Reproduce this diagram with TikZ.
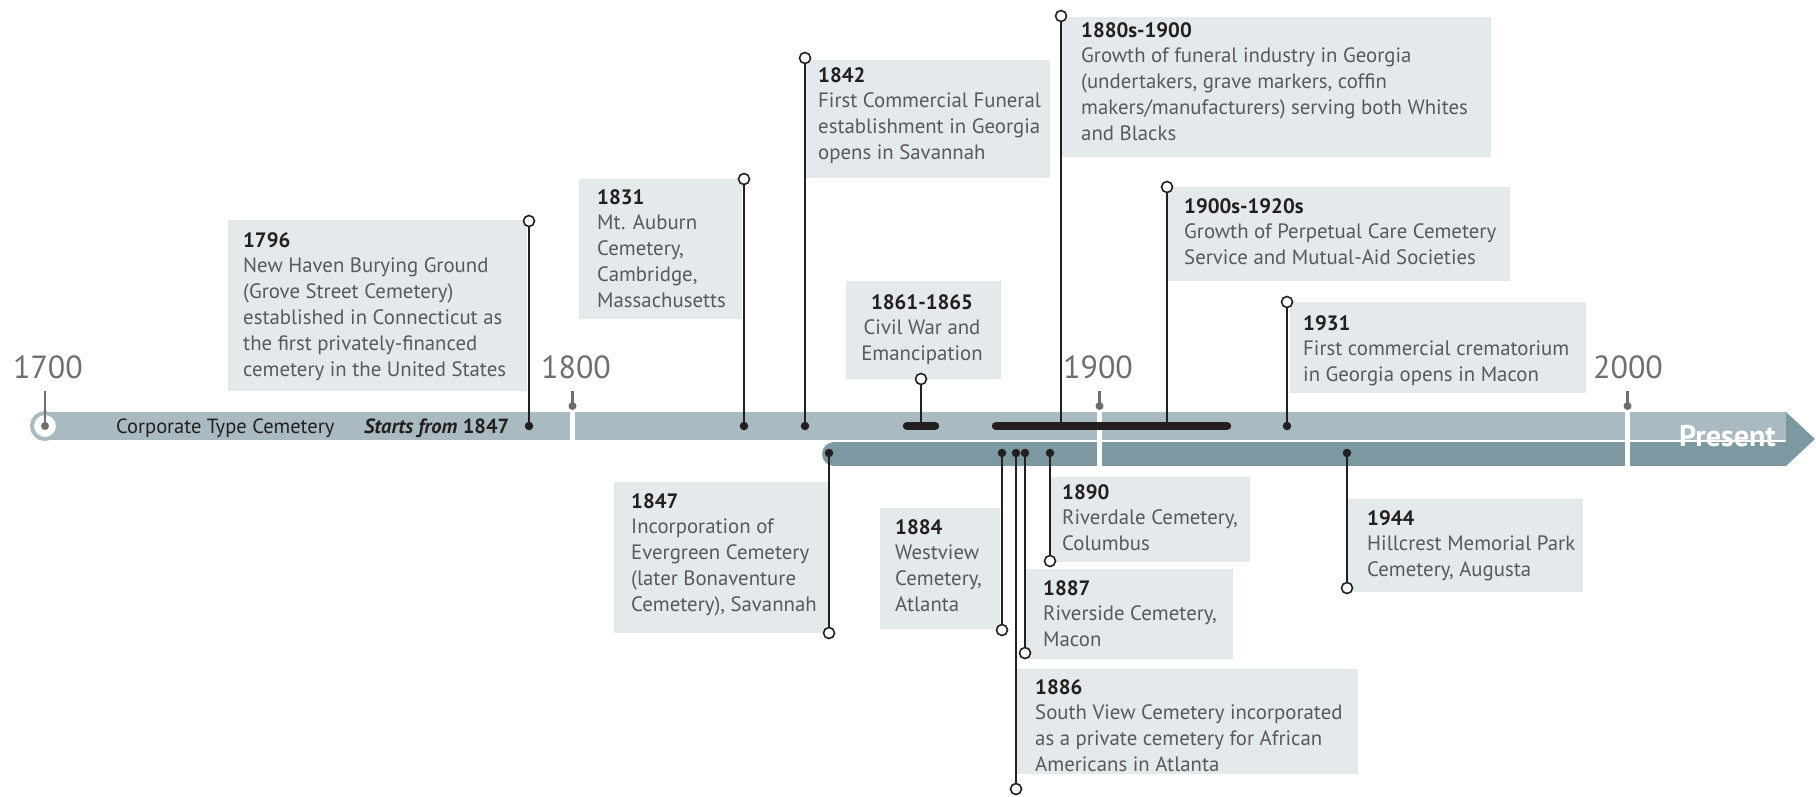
\documentclass[tikz,border=0pt]{standalone}
\usepackage{fontspec}
\setmainfont{PT Sans}
\definecolor{barlight}{HTML}{A9BBC1}
\definecolor{bardark}{HTML}{7C99A1}
\definecolor{boxfill}{HTML}{E4E9EB}
\definecolor{txtgray}{HTML}{58595B}
\definecolor{dark}{HTML}{231F20}
\definecolor{tickgray}{HTML}{6D6E71}
\tikzset{
  box/.style={fill=boxfill, inner sep=0, anchor=north west},
  evtxt/.style={anchor=base west, inner sep=0, text=txtgray, font=\fontsize{20.8}{25.8}\selectfont},
  opencirc/.style={circle, draw=dark, fill=white, line width=1.6, minimum size=11, inner sep=0},
  evdot/.style={circle, fill=dark, minimum size=8.5, inner sep=0},
  stem/.style={draw=dark, line width=2},
  span/.style={draw=dark, line width=8.5, line cap=round},
  yearlbl/.style={text=tickgray, font=\fontsize{32}{32}\selectfont, anchor=base, inner sep=0},
  tickline/.style={draw=tickgray, line width=2.5},
  tickdot/.style={circle, fill=tickgray, minimum size=8, inner sep=0},
}
\newcommand{\yr}[1]{{\bfseries\color{dark}#1}}
\newcommand{\evl}[1]{\begin{tabular}[t]{@{}l@{}}#1\end{tabular}}
\newcommand{\evc}[1]{\begin{tabular}[t]{@{}c@{}}#1\end{tabular}}
\begin{document}
\begin{tikzpicture}[x=1pt,y=-1pt]
\useasboundingbox (0,0) rectangle (1816,796);
% bars
\fill[barlight] (45,412) rectangle (1786,439.6);
\fill[bardark] (834,454) circle[radius=12];
\fill[bardark] (834,442) rectangle (1786,466);
\fill[bardark] (1786,412) -- (1815,439) -- (1786,466) -- cycle;
\fill[white] (570,410) rectangle (575,440);
\fill[white] (1097,410) rectangle (1102,467);
\fill[white] (1625,410) rectangle (1630,467);
\node[anchor=base east, inner sep=0, text=white, font=\bfseries\fontsize{30}{30}\selectfont] (present) at (1776,446) {Present};
\draw[white, line width=1.6] (1660,440.8) -- (1786,440.8);
\node[anchor=base west, inner sep=0, text=dark, font=\fontsize{20.5}{24}\selectfont] (ctype) at (116,433) {Corporate Type Cemetery};
\node[anchor=base west, inner sep=0, text=dark, font=\fontsize{20.5}{24}\selectfont] (starts) at (364,433) {\textbf{\textit{Starts from}} \textbf{1847}};
% year ticks
\node[circle, draw=barlight, line width=4, fill=white, minimum size=26, inner sep=0] (c1700) at (45,426) {};
\node[tickdot] (t1700) at (45,426) {};
\coordinate (k1700) at (45,391);
\draw[tickline] (k1700) -- (t1700.center);
\foreach \n/\x in {1800/572.5, 1900/1099.5, 2000/1627.5}{
  \node[tickdot] (t\n) at (\x,406) {};
  \coordinate (k\n) at (\x,391);
  \draw[tickline] (k\n) -- (t\n.center);
}
\node[yearlbl] (y1700) at (48,378) {1700};
\node[yearlbl] (y1800) at (576,378) {1800};
\node[yearlbl] (y1900) at (1098,378) {1900};
\node[yearlbl] (y2000) at (1628,378) {2000};
% boxes
\node[box, minimum width=299, minimum height=171] (b1796) at (228,220) {};
\node[box, minimum width=163, minimum height=140] (b1831) at (579,179) {};
\node[box, minimum width=244, minimum height=118] (b1842) at (806,60) {};
\node[box, minimum width=155, minimum height=98] (b1861) at (846,281) {};
\node[box, minimum width=429, minimum height=140] (b1880) at (1062,17) {};
\node[box, minimum width=342, minimum height=94] (b1900) at (1168,187) {};
\node[box, minimum width=296, minimum height=91] (b1931) at (1290,302) {};
\node[box, minimum width=214, minimum height=151] (b1847) at (614,482) {};
\node[box, minimum width=120, minimum height=121] (b1884) at (880,508) {};
\node[box, minimum width=200, minimum height=85] (b1890) at (1050,477) {};
\node[box, minimum width=208, minimum height=90] (b1887) at (1025,569) {};
\node[box, minimum width=342, minimum height=105] (b1886) at (1016,669) {};
\node[box, minimum width=235, minimum height=93] (b1944) at (1348,499) {};
% texts
\node[evtxt] (x1796) at (243,247) {\evl{\yr{1796}\\New Haven Burying Ground\\(Grove Street Cemetery)\\established in Connecticut as\\the first privately-financed\\cemetery in the United States}};
\node[evtxt] (x1831) at (597,204) {\evl{\yr{1831}\\Mt. Auburn\\Cemetery,\\Cambridge,\\Massachusetts}};
\node[evtxt] (x1842) at (818,82) {\evl{\yr{1842}\\First Commercial Funeral\\establishment in Georgia\\opens in Savannah}};
\node[evtxt, anchor=base] (x1861) at (922,309) {\evc{\yr{1861-1865}\\Civil War and\\Emancipation}};
\node[evtxt] (x1880) at (1081,37) {\evl{\yr{1880s-1900}\\Growth of funeral industry in Georgia\\(undertakers, grave markers, coffin\\makers/manufacturers) serving both Whites\\and Blacks}};
\node[evtxt] (x1900) at (1184,213) {\evl{\yr{1900s-1920s}\\Growth of Perpetual Care Cemetery\\Service and Mutual-Aid Societies}};
\node[evtxt] (x1931) at (1303,330) {\evl{\yr{1931}\\First commercial crematorium\\in Georgia opens in Macon}};
\node[evtxt] (x1847) at (631,508) {\evl{\yr{1847}\\Incorporation of\\Evergreen Cemetery\\(later Bonaventure\\Cemetery), Savannah}};
\node[evtxt] (x1884) at (895,534) {\evl{\yr{1884}\\Westview\\Cemetery,\\Atlanta}};
\node[evtxt] (x1890) at (1062,499) {\evl{\yr{1890}\\Riverdale Cemetery,\\Columbus}};
\node[evtxt] (x1887) at (1043,595) {\evl{\yr{1887}\\Riverside Cemetery,\\Macon}};
\node[evtxt] (x1886) at (1035,694) {\evl{\yr{1886}\\South View Cemetery incorporated\\as a private cemetery for African\\Americans in Atlanta}};
\node[evtxt] (x1944) at (1367,525) {\evl{\yr{1944}\\Hillcrest Memorial Park\\Cemetery, Augusta}};
% spans
\coordinate (s1861a) at (907,426); \coordinate (s1861b) at (935,426);
\draw[span] (s1861a) -- (s1861b);
\coordinate (s1880a) at (996,426); \coordinate (s1880b) at (1227,426);
\draw[span] (s1880a) -- (s1880b);
% anchor points on the bar
\node[evdot] (d1796) at (529,426) {};
\node[evdot] (d1831) at (744,426) {};
\node[evdot] (d1842) at (805,426) {};
\node[evdot] (d1931) at (1287,426) {};
\coordinate (d1861) at (921,426);
\coordinate (d1880) at (1061,426);
\coordinate (d1900) at (1167,426);
\node[evdot] (d1847) at (829,453) {};
\node[evdot] (d1884) at (1002,453) {};
\node[evdot] (d1886) at (1016,453) {};
\node[evdot] (d1887) at (1025,453) {};
\node[evdot] (d1890) at (1050,453) {};
\node[evdot] (d1944) at (1347,453) {};
% open circles
\node[opencirc] (c1796) at (529,221) {};
\node[opencirc] (c1831) at (744,179) {};
\node[opencirc] (c1842) at (805,58) {};
\node[opencirc] (c1861) at (921,379) {};
\node[opencirc] (c1880) at (1061,16) {};
\node[opencirc] (c1900) at (1167,187) {};
\node[opencirc] (c1931) at (1287,302) {};
\node[opencirc] (c1847) at (829,633) {};
\node[opencirc] (c1884) at (1002,630) {};
\node[opencirc] (c1890) at (1050,561) {};
\node[opencirc] (c1887) at (1025,653) {};
\node[opencirc] (c1886) at (1016,789) {};
\node[opencirc] (c1944) at (1347,588) {};
% stems
\foreach \e in {1796,1831,1842,1931}{\draw[stem] (c\e.south) -- (d\e.center);}
\foreach \e in {1861,1880,1900}{\draw[stem] (c\e.south) -- (d\e);}
\foreach \e in {1847,1884,1886,1887,1890,1944}{\draw[stem] (d\e.center) -- (c\e.north);}
\end{tikzpicture}
\end{document}
